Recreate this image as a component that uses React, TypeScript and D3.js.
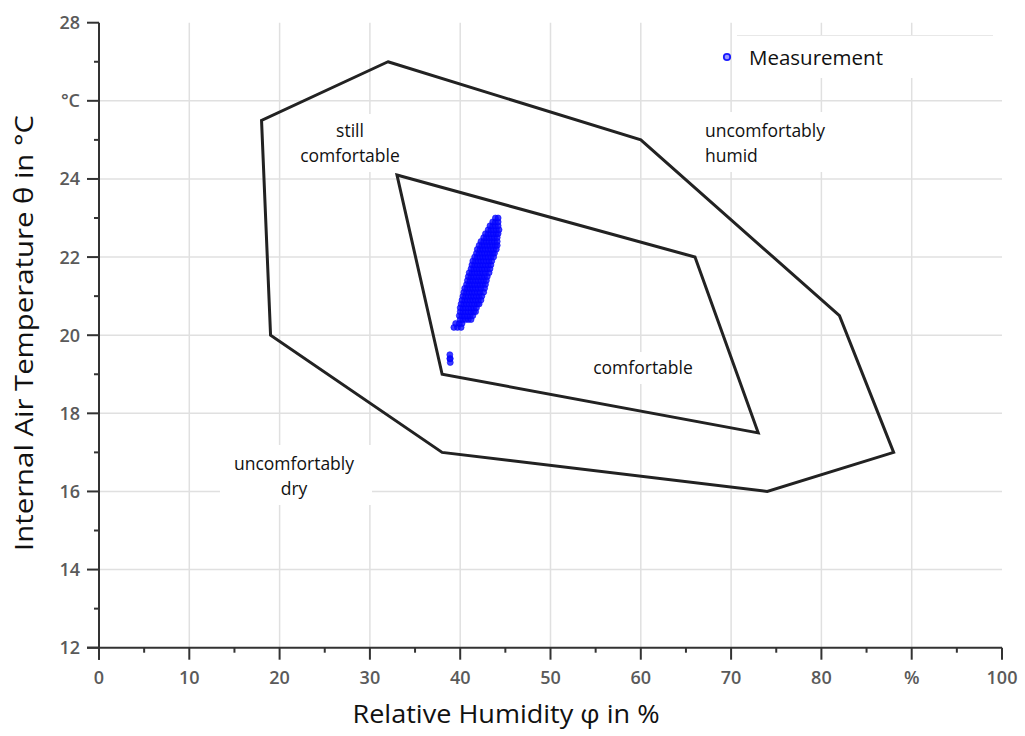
import React from "react";
import * as d3 from "d3";

// Comfort zone polygons (relative humidity %, temperature °C)
const outerHumidity = [32, 60, 82, 88, 74, 38, 19, 18];
const outerTemp = [27, 25, 20.5, 17, 16, 17, 20, 25.5];
const innerHumidity = [33, 66, 73, 38];
const innerTemp = [24.1, 22, 17.5, 19];

// Measurement cloud, read row by row (temperature row -> humidity values)
const measTemps = [
  19.3, 19.4, 19.5, 20.2, 20.3, 20.4, 20.5, 20.6, 20.7, 20.8, 20.9, 21.0, 21.1, 21.2, 21.3,
  21.4, 21.5, 21.6, 21.7, 21.8, 21.9, 22.0, 22.1, 22.2, 22.3, 22.4, 22.5, 22.6, 22.7, 22.8,
  22.9, 23.0,
];
const measHumidity = [
  [38.9],
  [38.85, 38.9],
  [38.85],
  [39.3, 39.7, 40.1],
  [39.5, 39.9, 40.2],
  [40.0, 40.3, 40.6, 40.9, 41.2],
  [39.9, 40.2, 40.5, 40.8, 41.1, 41.4],
  [40.0, 40.3, 40.6, 40.9, 41.2, 41.5, 41.7],
  [40.0, 40.3, 40.6, 40.9, 41.2, 41.5, 41.8],
  [40.1, 40.4, 40.7, 41.0, 41.3, 41.6, 41.9, 42.1],
  [40.2, 40.5, 40.8, 41.1, 41.4, 41.7, 42.0, 42.3],
  [40.3, 40.6, 40.9, 41.2, 41.5, 41.8, 42.1, 42.4],
  [40.4, 40.7, 41.0, 41.3, 41.6, 41.9, 42.2, 42.6],
  [40.5, 40.8, 41.1, 41.4, 41.7, 42.0, 42.3, 42.7],
  [40.7, 41.0, 41.3, 41.6, 41.9, 42.2, 42.5, 42.8],
  [40.8, 41.1, 41.4, 41.7, 42.0, 42.3, 42.6, 42.9],
  [40.9, 41.2, 41.5, 41.8, 42.1, 42.4, 42.7, 43.0],
  [41.0, 41.3, 41.6, 41.9, 42.2, 42.5, 42.8, 43.2],
  [41.2, 41.5, 41.8, 42.1, 42.4, 42.7, 43.0, 43.3],
  [41.3, 41.6, 41.9, 42.2, 42.5, 42.8, 43.1, 43.4],
  [41.4, 41.7, 42.0, 42.3, 42.6, 42.9, 43.2, 43.5],
  [41.6, 41.9, 42.2, 42.5, 42.8, 43.1, 43.4, 43.7],
  [41.8, 42.1, 42.4, 42.7, 43.0, 43.3, 43.6, 43.8],
  [41.9, 42.2, 42.5, 42.8, 43.1, 43.4, 43.7, 44.0],
  [42.1, 42.4, 42.7, 43.0, 43.3, 43.6, 43.9, 44.1],
  [42.3, 42.6, 42.9, 43.2, 43.5, 43.8, 44.1],
  [42.6, 42.9, 43.2, 43.5, 43.8, 44.1],
  [42.8, 43.1, 43.4, 43.7, 44.0, 44.2],
  [43.1, 43.4, 43.7, 44.0, 44.3],
  [43.3, 43.6, 43.9, 44.2],
  [43.6, 43.9, 44.2],
  [43.9, 44.2],
];

const xMajorTicks = [0, 10, 20, 30, 40, 50, 60, 70, 80, 90, 100];
const xTickLabels = ["0", "10", "20", "30", "40", "50", "60", "70", "80", "%", "100"];
const xMinorTicks = [5, 15, 25, 35, 45, 55, 65, 75, 85, 95];
const yMajorTicks = [12, 14, 16, 18, 20, 22, 24, 26, 28];
const yTickLabels = ["12", "14", "16", "18", "20", "22", "24", "°C", "28"];
const yMinorTicks = [13, 15, 17, 19, 21, 23, 25, 27];
const xGrid = [10, 20, 30, 40, 50, 60, 70, 80, 90];
const yGrid = [14, 16, 18, 20, 22, 24, 26];

export default function App() {
  const x = d3.scaleLinear().domain([0, 100]).range([99, 1002]);
  const y = d3.scaleLinear().domain([12, 28]).range([647.7, 22.7]);
  const line = d3
    .line<[number, number]>()
    .x((d) => x(d[0]))
    .y((d) => y(d[1]))
    .curve(d3.curveLinearClosed);
  const outer = outerHumidity.map((h, i) => [h, outerTemp[i]] as [number, number]);
  const inner = innerHumidity.map((h, i) => [h, innerTemp[i]] as [number, number]);
  const points: [number, number][] = [];
  measTemps.forEach((t, i) => measHumidity[i].forEach((h) => points.push([h, t])));

  const font = "'Open Sans', 'DejaVu Sans', sans-serif";
  const tickColor = "#5a5a5a";
  const axisColor = "#333";

  return (
    <svg
      width={1025}
      height={736}
      style={{ position: "absolute", left: 0, top: 0, background: "#fff" }}
      fontFamily={font}
    >
      <rect x={0} y={0} width={1025} height={736} fill="#fff" />
      {/* grid */}
      {xGrid.map((v) => (
        <line key={"gx" + v} x1={x(v)} x2={x(v)} y1={y(28)} y2={y(12)} stroke="#e0e0e0" strokeWidth={1.5} />
      ))}
      {yGrid.map((v) => (
        <line key={"gy" + v} x1={x(0)} x2={x(100)} y1={y(v)} y2={y(v)} stroke="#e0e0e0" strokeWidth={1.5} />
      ))}

      {/* white label boxes */}
      <rect x={737} y={36} width={256} height={42} fill="#fff" />
      <line x1={737} x2={993} y1={35.5} y2={35.5} stroke="#e8e8e8" strokeWidth={1} />
      <rect x={293} y={114} width={115} height={58} fill="#fff" />
      <rect x={697} y={112} width={140} height={60} fill="#fff" />
      <rect x={583} y={352} width={122} height={32} fill="#fff" />
      <rect x={220} y={445} width={152} height={60} fill="#fff" />

      {/* polygons */}
      <path d={line(outer) || ""} fill="none" stroke="#222" strokeWidth={3} strokeLinejoin="miter" />
      <path d={line(inner) || ""} fill="none" stroke="#222" strokeWidth={3} strokeLinejoin="miter" />

      {/* measurements */}
      {points.map((p, i) => (
        <circle
          key={"p" + i}
          cx={x(p[0])}
          cy={y(p[1])}
          r={3}
          fill="#0a0aff"
          fillOpacity={0.8}
          stroke="#0000ff"
          strokeOpacity={0.7}
          strokeWidth={0.8}
        />
      ))}

      {/* axes */}
      <line x1={x(0)} x2={x(0)} y1={y(28)} y2={y(12) + 12} stroke={axisColor} strokeWidth={2} />
      <line x1={x(0) - 12} x2={x(100)} y1={y(12)} y2={y(12)} stroke={axisColor} strokeWidth={2} />
      {yMajorTicks.map((v) => (
        <line key={"ytm" + v} x1={x(0) - 12} x2={x(0)} y1={y(v)} y2={y(v)} stroke={axisColor} strokeWidth={2} />
      ))}
      {yMinorTicks.map((v) => (
        <line key={"ytn" + v} x1={x(0) - 5} x2={x(0)} y1={y(v)} y2={y(v)} stroke={axisColor} strokeWidth={2} />
      ))}
      {xMajorTicks.map((v) => (
        <line key={"xtm" + v} x1={x(v)} x2={x(v)} y1={y(12)} y2={y(12) + 12} stroke={axisColor} strokeWidth={2} />
      ))}
      {xMinorTicks.map((v) => (
        <line key={"xtn" + v} x1={x(v)} x2={x(v)} y1={y(12)} y2={y(12) + 5} stroke={axisColor} strokeWidth={2} />
      ))}
      {yMajorTicks.map((v, i) => (
        <text
          key={"ytl" + v}
          x={80}
          y={y(v)}
          dy="0.36em"
          textAnchor="end"
          fontSize={18}
          fill={tickColor}
          fontWeight={600}
        >
          {yTickLabels[i]}
        </text>
      ))}
      {xMajorTicks.map((v, i) => (
        <text key={"xtl" + v} x={x(v)} y={684} textAnchor="middle" fontSize={18} fill={tickColor} fontWeight={600}>
          {xTickLabels[i]}
        </text>
      ))}

      {/* axis titles */}
      <text
        x={506}
        y={723}
        textAnchor="middle"
        fontSize={26}
        fill="#111"
        textLength={307}
        lengthAdjust="spacingAndGlyphs"
      >
        Relative Humidity φ in %
      </text>
      <text
        transform="translate(33,333) rotate(-90)"
        textAnchor="middle"
        fontSize={26}
        fill="#111"
        textLength={436}
        lengthAdjust="spacingAndGlyphs"
      >
        Internal Air Temperature θ in °C
      </text>

      {/* region labels */}
      <g fontSize={17.5} fill="#111">
        <text x={350} y={137} textAnchor="middle">still</text>
        <text x={350} y={162} textAnchor="middle">comfortable</text>
        <text x={705} y={137}>uncomfortably</text>
        <text x={705} y={162}>humid</text>
        <text x={643} y={374} textAnchor="middle">comfortable</text>
        <text x={294} y={470} textAnchor="middle">uncomfortably</text>
        <text x={294} y={495} textAnchor="middle">dry</text>
      </g>

      {/* legend */}
      <circle cx={727} cy={57} r={3.2} fill="#9a9aff" stroke="#1a1aff" strokeWidth={1.8} />
      <text x={749} y={65} fontSize={20.5} fill="#111">
        Measurement
      </text>
    </svg>
  );
}
